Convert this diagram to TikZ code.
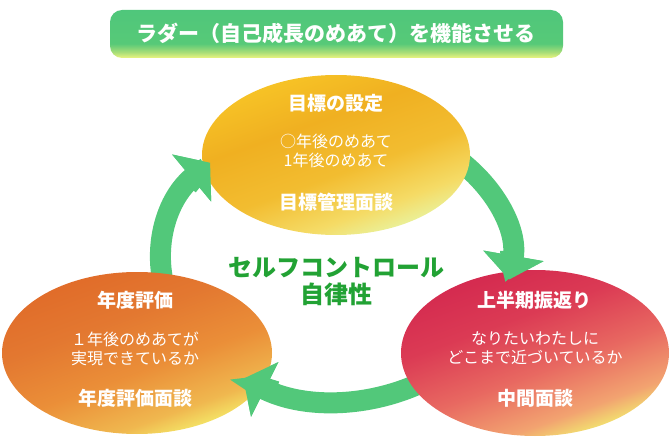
\documentclass[tikz,border=0pt]{standalone}
\usepackage{fontspec}
\setmainfont{Noto Sans CJK JP}
\usepackage{tikz}
\usetikzlibrary{arrows.meta}
\definecolor{arrowgreen}{RGB}{82,200,122}
\definecolor{textgreen}{RGB}{34,162,52}
\pgfdeclareverticalshading{bannershade}{100bp}{rgb(0bp)=(0.93,0.96,0.50); rgb(25bp)=(0.93,0.96,0.50); rgb(31bp)=(0.66,0.87,0.47); rgb(40bp)=(0.34,0.79,0.47); rgb(100bp)=(0.29,0.77,0.49)}
\pgfdeclareverticalshading{goalshade}{100bp}{rgb(0bp)=(0.91,0.96,0.64); rgb(25bp)=(0.91,0.96,0.64); rgb(33bp)=(0.96,0.86,0.40); rgb(45bp)=(0.95,0.74,0.19); rgb(60bp)=(0.94,0.69,0.13); rgb(75bp)=(0.97,0.77,0.15); rgb(100bp)=(0.97,0.77,0.15)}
\pgfdeclareverticalshading{reviewshade}{100bp}{rgb(0bp)=(0.95,0.93,0.44); rgb(25bp)=(0.95,0.93,0.44); rgb(32bp)=(0.95,0.64,0.44); rgb(45bp)=(0.91,0.41,0.38); rgb(60bp)=(0.86,0.23,0.33); rgb(75bp)=(0.83,0.16,0.31); rgb(100bp)=(0.83,0.16,0.31)}
\pgfdeclareverticalshading{evalshade}{100bp}{rgb(0bp)=(0.96,0.93,0.42); rgb(25bp)=(0.96,0.93,0.42); rgb(32bp)=(0.94,0.72,0.31); rgb(45bp)=(0.92,0.56,0.22); rgb(60bp)=(0.89,0.47,0.19); rgb(75bp)=(0.88,0.42,0.16); rgb(100bp)=(0.88,0.42,0.16)}

\begin{document}
\begin{tikzpicture}[x=1pt,y=1pt,
  headtext/.style={text=white,font=\fontsize{19}{22}\selectfont\bfseries},
  bodytext/.style={text=white,align=center,font=\fontsize{16}{19}\selectfont},
  cyclearrow/.style={draw=arrowgreen,line width=21pt,-{Triangle[width=60pt,length=24pt]}}]
\useasboundingbox (0,0) rectangle (670,440);
\coordinate (c) at (336,180);
% arrows (tails go under the ellipses)
\draw[cyclearrow] (c) ++(200:175pt and 140pt) arc[start angle=200,end angle=136,x radius=175pt,y radius=140pt];
\draw[cyclearrow] (c) ++(55:175pt and 140pt) arc[start angle=55,end angle=-8,x radius=175pt,y radius=140pt];
\draw[cyclearrow] (c) ++(-35:175pt and 140pt) arc[start angle=-35,end angle=-122,x radius=175pt,y radius=140pt];
% ellipses
\shade[shading=goalshade,shading angle=20] (336,285) ellipse [x radius=134pt,y radius=80pt];
\shade[shading=reviewshade,shading angle=20] (535,87) ellipse [x radius=134pt,y radius=83pt];
\shade[shading=evalshade,shading angle=20] (137,87) ellipse [x radius=135pt,y radius=81pt];
% arrow heads on top
\draw[cyclearrow] (c) ++(148:175pt and 140pt) arc[start angle=148,end angle=136,x radius=175pt,y radius=140pt];
\draw[cyclearrow] (c) ++(4:175pt and 140pt) arc[start angle=4,end angle=-8,x radius=175pt,y radius=140pt];
\draw[cyclearrow] (c) ++(-110:175pt and 140pt) arc[start angle=-110,end angle=-122,x radius=175pt,y radius=140pt];
% title
\shade[shading=bannershade,rounded corners=12pt] (110,382) rectangle (563,430);
\node (title) at (336,407) [text=white,font=\fontsize{21}{24}\selectfont\bfseries] {ラダー（自己成長のめあて）を機能させる};
% centre
\node (self) at (336,158) [text=textgreen,align=center,font=\fontsize{24}{27}\selectfont\bfseries] {セルフコントロール\\自律性};
% top
\node (goal) at (336,337) [headtext] {目標の設定};
\node (goalbody) at (336,289) [bodytext] {○年後のめあて\\1年後のめあて};
\node (goaltalk) at (336,238) [headtext] {目標管理面談};
% right
\node (review) at (534,140) [headtext] {上半期振返り};
\node (reviewbody) at (535,92) [bodytext] {なりたいわたしに\\どこまで近づいているか};
\node (reviewtalk) at (535,42) [headtext] {中間面談};
% left
\node (eval) at (135,140) [headtext] {年度評価};
\node (evalbody) at (135,91) [bodytext] {１年後のめあてが\\実現できているか};
\node (evaltalk) at (135,42) [headtext] {年度評価面談};
\end{tikzpicture}
\end{document}
